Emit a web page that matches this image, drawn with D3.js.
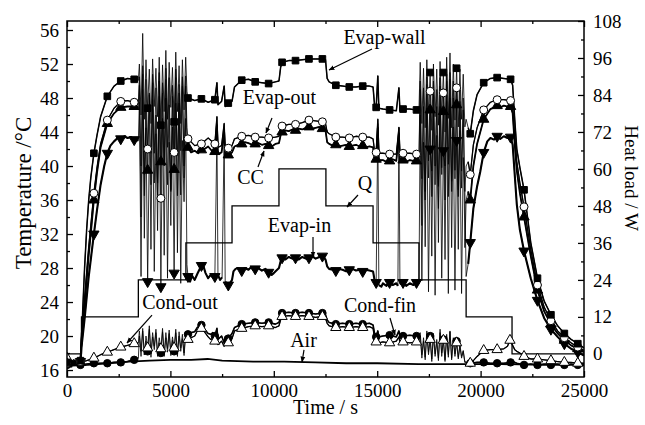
<!DOCTYPE html>
<html>
<head>
<meta charset="utf-8">
<script src="https://cdn.jsdelivr.net/npm/d3@7"></script>
<style>
  body { margin: 0; background: #fff; }
  text { font-family: "Liberation Serif", "Times New Roman", serif; fill: #000; }
</style>
</head>
<body>
<div id="chart"></div>
<script>
/* heat load steps (W), step-after */
const qTimes = [0, 700, 3450, 5750, 7980, 10250, 12520, 14800, 17020, 19300, 21520, 25000];
const qLoads = [0, 12, 24, 36, 48, 60, 48, 36, 24, 12, 0, 0];

/* time stamps of the two oscillating periods */
const oscTimesA = [3500,3580,3660,3740,3820,3900,3980,4060,4140,4220,4300,4380,4460,4540,4620,4700,4780,4860,4940,5020,5100,5180,5260,5340,5420,5500,5580,5660,5740,5800];
const oscTimesB = [17080,17160,17240,17320,17400,17480,17560,17640,17720,17800,17880,17960,18040,18120,18200,18280,18360,18440,18520,18600,18680,18760,18840,18920,19000,19080,19160,19240,19300];

/* Evap-wall */
const evapWall = [[0,16.9],[325,17.0],[650,17.1],[700,19.0],[760,23.0],[850,28.0],[950,32.5],[1050,36.0],[1150,38.6],[1300,41.5],[1450,43.6],[1625,45.8],[1950,48.2],[2275,49.4],[2600,50.0],[2925,50.3],[3250,50.2],[3450,50.1],
  [5850,48.0],[6175,47.7],[6500,47.9],[6825,47.5],[7150,47.8],[7250,49.8],[7300,47.2],[7475,47.6],[7600,49.4],[7650,47.0],[7800,47.4],[7980,47.6],
  [8100,49.3],[8450,50.1],[8775,50.2],[9100,49.9],[9425,49.8],[9750,49.7],[10075,49.9],[10250,50.0],
  [10330,51.6],[10400,52.2],[10725,52.4],[11050,52.4],[11375,52.5],[11700,52.6],[12025,52.6],[12350,52.6],[12500,52.5],
  [12580,50.3],[12675,49.9],[13000,49.5],[13325,49.4],[13650,49.3],[13975,49.3],[14300,49.4],[14625,49.4],[14800,49.3],
  [14870,47.2],[14950,46.9],[15030,50.6],[15080,46.8],[15275,46.7],[15600,46.6],[15925,46.5],[16050,49.2],[16100,46.5],[16250,46.7],[16575,46.7],[16900,46.6],[17020,46.7],
  [19400,44.5],[19500,43.8],[19650,46.5],[19830,48.4],[20150,49.8],[20475,50.3],[20800,50.4],[21125,50.3],[21450,50.2],[21550,49.5],
  [21650,45.5],[21750,42.0],[21900,39.8],[22100,37.2],[22425,31.0],[22750,26.8],[23075,24.1],[23400,22.5],[23725,21.2],[24050,20.3],[24375,19.6],[24700,19.1],[25000,18.6]];
const evapWallOscA = [52.0,46.0,55.6,45.5,52.5,46.8,51.4,45.0,52.6,47.0,51.5,45.8,52.8,44.8,51.9,46.4,53.6,45.5,52.2,46.9,51.6,45.2,53.4,46.4,51.8,45.0,52.5,46.6,52.8,48.8];
const evapWallOscB = [52.2,45.0,51.5,44.5,52.5,46.2,51.0,44.2,52.0,45.8,51.4,44.8,52.3,46.0,51.0,44.0,52.8,45.6,53.3,44.5,52.0,45.4,51.5,44.6,51.4,45.5,50.8,44.6,45.5];

/* Evap-out */
const evapOut = [[0,16.8],[325,16.9],[650,17.0],[700,20.3],[760,22.0],[850,24.5],[950,27.5],[1050,30.5],[1150,33.0],[1300,36.8],[1450,39.8],[1625,42.6],[1950,45.4],[2275,46.8],[2600,47.6],[2925,47.7],[3250,47.5],[3450,47.4],
  [5850,43.2],[6175,42.4],[6500,42.6],[6825,43.3],[7150,42.6],[7250,45.8],[7300,42.2],[7475,42.4],[7600,45.0],[7650,41.9],[7800,42.1],[7980,42.4],
  [8100,43.2],[8450,43.5],[8775,43.6],[9100,43.4],[9425,43.4],[9750,43.3],[10075,43.4],[10250,43.5],
  [10330,44.3],[10400,44.7],[10725,44.9],[11050,44.9],[11375,45.1],[11700,45.4],[12025,45.3],[12350,45.2],[12500,45.0],
  [12580,44.0],[12675,43.8],[13000,43.4],[13325,43.4],[13650,43.3],[13975,43.5],[14300,43.4],[14625,43.4],[14800,43.2],
  [14870,41.8],[14950,41.6],[15030,45.5],[15080,41.5],[15275,41.5],[15600,41.4],[15925,41.4],[16050,44.5],[16100,41.3],[16250,41.5],[16575,41.5],[16900,41.4],[17020,41.3],
  [19400,40.5],[19500,39.0],[19650,42.5],[19830,44.5],[20150,46.6],[20475,47.5],[20800,47.8],[21125,47.8],[21450,47.7],[21550,47.0],
  [21650,43.5],[21750,40.5],[21900,38.0],[22100,35.2],[22425,30.2],[22750,26.0],[23075,23.4],[23400,21.8],[23725,20.6],[24050,19.8],[24375,19.2],[24700,18.7],[25000,18.3]];
const evapOutOscA = [50.5,40.0,51.8,36.5,50.2,42.0,48.6,37.8,50.8,41.5,49.2,38.0,51.0,36.2,49.8,40.5,51.5,42.2,50.4,37.0,49.5,41.6,51.4,36.5,49.6,41.8,50.5,38.6,50.6,44.5];
const evapOutOscB = [50.0,38.5,49.2,36.0,50.5,40.6,48.8,36.4,50.0,40.0,49.0,37.6,50.4,39.8,48.6,36.0,50.8,40.2,51.0,37.0,50.0,39.5,49.2,37.2,49.0,39.4,48.0,37.0,40.0];

/* CC */
const ccTemp = [[0,16.7],[325,16.8],[650,16.9],[700,19.5],[760,21.0],[850,23.5],[950,26.5],[1050,29.5],[1150,32.0],[1300,36.0],[1450,39.2],[1625,42.2],[1950,45.0],[2275,46.2],[2600,46.9],[2925,47.0],[3250,47.0],[3450,46.9],
  [5850,42.2],[6000,41.6],[6175,41.8],[6350,41.5],[6500,41.9],[6650,42.0],[6825,42.3],[7000,41.8],[7150,41.7],[7250,44.8],[7300,41.4],[7475,41.6],[7600,44.0],[7650,41.2],[7800,41.3],[7980,41.6],
  [8100,42.3],[8275,42.5],[8450,42.6],[8600,42.8],[8775,42.7],[8950,42.5],[9100,42.6],[9250,42.7],[9425,42.5],[9600,42.6],[9750,42.4],[9900,42.3],[10075,42.6],[10250,42.7],
  [10330,43.6],[10400,44.0],[10550,44.2],[10725,44.1],[10900,44.3],[11050,44.2],[11200,44.4],[11375,44.3],[11550,44.5],[11700,44.6],[11850,44.4],[12025,44.5],[12200,44.6],[12350,44.4],[12500,44.2],
  [12580,42.8],[12675,42.6],[12850,42.4],[13000,42.5],[13150,42.3],[13325,42.4],[13500,42.5],[13650,42.3],[13800,42.4],[13975,42.5],[14150,42.3],[14300,42.4],[14450,42.2],[14625,42.3],[14800,42.2],
  [14870,40.9],[14950,40.8],[15030,44.5],[15080,40.7],[15275,40.7],[15450,40.5],[15600,40.6],[15750,40.8],[15925,40.6],[16050,43.8],[16100,40.5],[16250,40.7],[16400,40.5],[16575,40.7],[16750,40.6],[16900,40.6],[17020,40.5],
  [19400,37.0],[19500,36.0],[19650,40.0],[19830,42.6],[20150,45.5],[20475,46.7],[20650,46.9],[20800,47.1],[20950,46.9],[21125,47.1],[21300,47.0],[21450,47.0],[21550,46.2],
  [21650,42.5],[21750,39.5],[21900,36.8],[22100,34.0],[22425,29.4],[22750,25.4],[23075,22.9],[23400,21.4],[23725,20.3],[24050,19.5],[24375,18.9],[24700,18.5],[25000,18.1]];
const ccOscA = [49.5,34.0,50.8,31.5,47.0,39.5,48.4,30.2,49.8,38.0,46.0,32.4,50.0,40.5,48.6,29.5,50.2,37.8,47.2,33.0,48.2,39.6,50.4,29.8,47.4,36.6,49.4,40.0,49.4,43.0];
const ccOscB = [49.0,33.0,47.0,30.5,49.6,38.6,46.6,29.4,49.0,37.8,47.0,31.0,49.4,39.0,46.4,29.0,50.0,36.4,50.2,30.4,48.0,38.5,47.2,30.2,47.6,37.4,46.6,30.4,36.0];

/* Evap-in */
const evapIn = [[0,16.8],[325,16.7],[650,17.0],[700,18.7],[760,20.0],[850,22.0],[950,24.5],[1050,27.0],[1150,29.0],[1300,32.0],[1450,34.8],[1625,37.8],[1800,40.0],[1950,41.5],[2100,42.4],[2275,42.9],[2450,43.3],[2600,43.2],[2775,43.5],[2925,43.3],[3100,43.4],[3250,43.1],[3450,43.0],
  [5850,27.0],[5950,26.4],[6050,27.1],[6175,26.6],[6300,27.3],[6400,27.8],[6500,28.3],[6600,28.2],[6700,27.4],[6825,26.8],[6950,27.2],[7050,26.9],[7150,27.0],[7250,44.0],[7300,27.2],[7400,26.6],[7500,26.9],[7600,43.5],[7650,26.4],[7725,26.2],[7800,26.0],[7900,26.3],[7980,26.6],
  [8050,27.6],[8150,27.9],[8275,28.0],[8450,27.7],[8600,28.0],[8775,27.8],[8900,28.1],[9000,27.8],[9100,27.9],[9250,28.0],[9425,27.7],[9600,27.9],[9750,27.5],[9900,27.2],[10000,27.4],[10075,27.6],[10250,28.0],
  [10330,28.8],[10400,29.2],[10550,29.0],[10725,29.3],[10900,29.1],[11050,29.2],[11200,29.0],[11375,29.3],[11550,29.1],[11700,29.2],[11850,29.4],[12025,29.1],[12200,29.3],[12350,29.4],[12500,29.0],
  [12580,28.2],[12675,27.9],[12850,27.8],[13000,27.7],[13150,27.9],[13325,27.8],[13500,27.6],[13650,27.8],[13800,27.9],[13975,27.7],[14150,27.8],[14300,27.6],[14450,27.8],[14625,27.7],[14800,27.6],
  [14870,26.6],[14950,26.3],[15030,45.0],[15080,26.0],[15200,25.8],[15275,26.2],[15450,25.9],[15600,26.3],[15750,26.0],[15925,26.2],[16000,25.9],[16050,44.6],[16100,26.1],[16250,26.3],[16400,25.9],[16575,26.2],[16750,26.0],[16900,26.3],[17020,26.1],
  [19400,28.5],[19500,31.0],[19650,35.0],[19830,37.6],[19980,39.3],[20150,41.6],[20325,42.9],[20475,43.3],[20650,43.1],[20800,43.5],[20950,43.2],[21125,43.5],[21300,43.3],[21450,43.4],[21550,42.5],
  [21650,39.0],[21750,35.5],[21900,32.5],[22100,30.0],[22425,26.8],[22750,24.2],[23075,22.1],[23400,20.8],[23725,19.9],[24050,19.1],[24375,18.5],[24700,18.1],[25000,17.7]];
const evapInOscA = [47.5,27.0,49.0,39.0,44.5,26.4,42.2,41.5,47.8,27.6,43.8,36.5,48.2,25.8,45.6,40.0,48.0,26.8,42.8,37.2,44.6,27.4,47.4,41.2,48.6,26.2,43.0,35.8,45.6,28.4];
const evapInOscB = [46.0,26.5,42.8,37.0,46.8,25.2,42.0,39.4,46.2,24.8,43.6,35.0,47.0,26.8,41.8,40.0,47.6,25.0,48.0,38.2,44.6,25.4,43.0,36.4,44.2,25.0,41.0,37.0,27.0];

/* Cond-out */
const condOut = [[0,17.4],[160,16.8],[325,17.2],[500,16.9],[650,16.9],[950,17.1],[1300,17.4],[1625,17.8],[1950,18.1],[2275,18.4],[2600,18.7],[2925,18.9],[3250,19.1],[3450,19.2],
  [5850,19.6],[6000,19.8],[6175,20.0],[6300,20.6],[6500,20.9],[6650,20.5],[6825,19.9],[6950,19.6],[7050,19.7],[7150,19.4],[7250,20.4],[7300,19.0],[7475,19.4],[7600,18.8],[7650,19.5],[7800,19.2],[7980,19.7],
  [8100,20.6],[8450,20.9],[8775,21.1],[9100,21.2],[9425,21.1],[9750,21.2],[10075,21.0],[10250,21.2],
  [10330,21.9],[10400,22.3],[10725,22.4],[11050,22.3],[11375,22.4],[11700,22.3],[12025,22.2],[12350,22.3],[12500,22.1],
  [12580,21.5],[12675,21.2],[13000,21.0],[13325,21.1],[13650,21.0],[13975,21.1],[14300,21.0],[14625,21.1],[14800,20.9],
  [14870,19.8],[14950,19.3],[15030,19.9],[15080,19.2],[15275,19.3],[15600,19.2],[15925,19.4],[16050,19.9],[16100,19.2],[16250,19.3],[16575,19.2],[16900,19.3],[17020,19.3],
  [19400,16.7],[19500,16.8],[19650,17.1],[19830,17.6],[20150,18.3],[20475,18.4],[20800,18.4],[21125,18.5],[21300,18.8],[21420,19.5],[21550,18.9],
  [21650,18.4],[21750,18.2],[21900,18.0],[22100,17.6],[22425,17.3],[22750,17.3],[23075,17.2],[23400,17.1],[23725,17.0],[24050,16.9],[24375,16.9],[24700,16.8],[25000,16.8]];
const condOutOscA = [20.6,18.2,20.9,17.8,20.0,18.6,21.2,17.9,20.4,18.8,20.8,18.0,19.8,18.5,20.9,17.8,20.4,18.5,20.7,18.1,19.9,18.6,20.8,17.9,20.5,18.6,20.2,18.0,20.5,19.6];
const condOutOscB = [20.0,17.4,19.4,17.2,20.2,17.8,19.6,17.0,20.0,17.6,19.3,17.1,20.4,17.6,19.5,17.0,19.9,17.5,20.5,17.2,19.6,17.6,19.2,17.3,18.8,17.4,18.2,16.9,17.0];

/* Cond-fin */
const condFin = [[0,16.6],[325,16.7],[650,16.6],[950,16.7],[1300,16.8],[1625,16.8],[1950,16.8],[2275,16.9],[2600,16.9],[2925,17.0],[3250,17.2],[3450,17.4],
  [5850,20.2],[6000,20.4],[6175,20.5],[6300,21.0],[6500,21.3],[6650,20.8],[6825,20.3],[6950,20.2],[7050,20.4],[7150,20.0],[7250,20.9],[7300,19.6],[7475,20.0],[7600,19.2],[7650,19.9],[7800,19.7],[7980,20.3],
  [8100,21.0],[8450,21.4],[8775,21.5],[9100,21.6],[9425,21.5],[9750,21.6],[10075,21.4],[10250,21.6],
  [10330,22.3],[10400,22.7],[10725,22.8],[11050,22.7],[11375,22.8],[11700,22.7],[12025,22.6],[12350,22.7],[12500,22.5],
  [12580,21.9],[12675,21.6],[13000,21.4],[13325,21.5],[13650,21.4],[13975,21.5],[14300,21.4],[14625,21.5],[14800,21.3],
  [14870,20.3],[14950,19.9],[15030,20.6],[15080,19.9],[15275,20.0],[15600,20.1],[15925,19.9],[16050,20.6],[16100,19.9],[16250,20.0],[16575,20.1],[16900,20.0],[17020,20.0],
  [19400,16.8],[19500,16.8],[19830,16.9],[20150,16.9],[20475,16.8],[20800,16.8],[21125,16.8],[21450,16.9],[21550,17.0],
  [21750,16.8],[22100,16.6],[22425,16.7],[22750,16.6],[23075,16.7],[23400,16.6],[23725,16.7],[24050,16.6],[24375,16.7],[24700,16.6],[25000,16.6]];
const condFinOscA = [20.0,17.6,20.6,17.8,19.4,18.2,20.8,17.5,19.9,18.4,20.4,17.6,19.2,18.0,20.5,17.6,19.8,18.1,20.3,17.7,19.5,18.2,20.4,17.6,20.0,18.2,19.7,17.7,20.1,19.8];
const condFinOscB = [20.4,17.8,19.8,17.5,20.6,18.1,20.0,17.3,20.3,17.9,19.6,17.4,20.8,18.0,19.6,17.2,20.2,17.8,20.6,17.4,19.8,17.9,19.4,17.5,19.0,17.6,18.3,16.9,16.9];

/* Air */
const airTemp = [[0,16.5],[1000,16.6],[2000,16.8],[3000,17.0],[4000,17.1],[5000,17.2],[6000,17.2],[6800,17.3],[7500,17.1],[9000,17.0],[10500,17.0],[12000,16.9],[13500,16.8],[15000,16.8],[17000,16.7],[19000,16.7],[21000,16.7],[23000,16.6],[25000,16.6]];

/* tick values */
const tempTicks = [16, 20, 24, 28, 32, 36, 40, 44, 48, 52, 56];
const loadTicks = [0, 12, 24, 36, 48, 60, 72, 84, 96, 108];
const timeTicks = [0, 5000, 10000, 15000, 20000, 25000];

/* ---------- setup ---------- */
const W = 645, H = 425;
const plot = { left: 67, right: 584, top: 21, bottom: 377 };

const svg = d3.select("#chart").append("svg")
  .attr("width", W).attr("height", H);

const x = d3.scaleLinear().domain([0, 25000]).range([plot.left, plot.right]);
const yT = d3.scaleLinear().domain([15.18, 57.06]).range([plot.bottom, plot.top]);
const yQ = d3.scaleLinear().domain([-7.5, 108]).range([plot.bottom, plot.top]);

svg.append("clipPath").attr("id", "plotClip")
  .append("rect")
  .attr("x", plot.left).attr("y", plot.top)
  .attr("width", plot.right - plot.left).attr("height", plot.bottom - plot.top);

function withOsc(base, valsA, valsB) {
  const pts = base.slice();
  oscTimesA.forEach((t, i) => pts.push([t, valsA[i]]));
  oscTimesB.forEach((t, i) => pts.push([t, valsB[i]]));
  return pts.sort((a, b) => a[0] - b[0]);
}

/* break a base series into runs at the oscillation gaps and at spikes */
function runs(base) {
  const out = [[base[0]]];
  for (let i = 1; i < base.length; i++) {
    if (base[i][0] - base[i - 1][0] > 1000 || Math.abs(base[i][1] - base[i - 1][1]) > 8) out.push([]);
    out[out.length - 1].push(base[i]);
  }
  return out.filter(r => r.length > 1);
}

const series = [
  { name: "Cond-fin", base: condFin, data: withOsc(condFin, condFinOscA, condFinOscB), sym: d3.symbolCircle, size: 44, fill: "#000", w: 1.6 },
  { name: "Cond-out", base: condOut, data: withOsc(condOut, condOutOscA, condOutOscB), sym: d3.symbolTriangle, size: 46, fill: "#fff", w: 1.3 },
  { name: "Evap-in", base: evapIn, data: withOsc(evapIn, evapInOscA, evapInOscB), sym: d3.symbolTriangle, size: 46, fill: "#000", w: 2.1, rot: 180 },
  { name: "CC", base: ccTemp, data: withOsc(ccTemp, ccOscA, ccOscB), sym: d3.symbolTriangle, size: 46, fill: "#000", w: 1.8 },
  { name: "Evap-out", base: evapOut, data: withOsc(evapOut, evapOutOscA, evapOutOscB), sym: d3.symbolCircle, size: 50, fill: "#fff", w: 1.3 },
  { name: "Evap-wall", base: evapWall, data: withOsc(evapWall, evapWallOscA, evapWallOscB), sym: d3.symbolSquare, size: 44, fill: "#000", w: 1.5 }
];

const line = d3.line().x(d => x(d[0])).y(d => yT(d[1]));
const g = svg.append("g").attr("clip-path", "url(#plotClip)");

/* heat load */
const qData = qTimes.map((t, i) => [t, qLoads[i]]);
g.append("path")
  .attr("d", d3.line().curve(d3.curveStepAfter).x(d => x(d[0])).y(d => yQ(d[1]))(qData))
  .attr("fill", "none").attr("stroke", "#000").attr("stroke-width", 1.3);

/* air */
g.append("path").attr("d", line(airTemp))
  .attr("fill", "none").attr("stroke", "#000").attr("stroke-width", 1.8);

series.forEach(s => {
  // thin trace through everything (oscillations, spikes)
  g.append("path").attr("d", line(s.data))
    .attr("fill", "none").attr("stroke", "#000")
    .attr("stroke-width", 0.8).attr("stroke-linejoin", "round");
  // steady parts drawn heavier
  runs(s.base).forEach(r => {
    g.append("path").attr("d", line(r))
      .attr("fill", "none").attr("stroke", "#000")
      .attr("stroke-width", s.w).attr("stroke-linejoin", "round");
  });
});

/* markers: nearest data point to a regular time step */
const markTimes = d3.range(0, 25001, 650);
function markPoints(data) {
  const out = [];
  markTimes.forEach(mt => {
    let best = null;
    data.forEach(d => {
      if (Math.abs(d[0] - mt) <= 170 && (!best || Math.abs(d[0] - mt) < Math.abs(best[0] - mt))) best = d;
    });
    if (best && !out.includes(best)) out.push(best);
  });
  return out;
}

series.forEach(s => {
  g.append("g").selectAll("path")
    .data(markPoints(s.data))
    .enter().append("path")
    .attr("d", d3.symbol().type(s.sym).size(s.size))
    .attr("transform", d => `translate(${x(d[0])},${yT(d[1])})` + (s.rot ? ` rotate(${s.rot})` : ""))
    .attr("fill", s.fill).attr("stroke", "#000").attr("stroke-width", 1);
});

/* ---------- axes ---------- */
function styleAxis(sel, fontSize) {
  sel.select(".domain").remove();
  sel.selectAll("line").attr("stroke", "#000").attr("stroke-width", 1.3);
  sel.selectAll("text").attr("fill", "#000").style("font-size", fontSize + "px")
    .style("font-family", "'Liberation Serif', 'Times New Roman', serif");
}

const minorT = d3.range(16, 57, 2).filter(v => !tempTicks.includes(v));
const minorQ = d3.range(0, 109, 6).filter(v => !loadTicks.includes(v));
const minorX = [2500, 7500, 12500, 17500, 22500];

svg.append("g").attr("transform", `translate(${plot.left},0)`)
  .call(d3.axisLeft(yT).tickValues(tempTicks).tickSize(-6).tickPadding(8))
  .call(a => styleAxis(a, 19));
svg.append("g").attr("transform", `translate(${plot.left},0)`)
  .call(d3.axisLeft(yT).tickValues(minorT).tickSize(-3).tickFormat(""))
  .call(a => styleAxis(a, 19));

svg.append("g").attr("transform", `translate(${plot.right},0)`)
  .call(d3.axisRight(yQ).tickValues(loadTicks).tickSize(-6).tickPadding(9))
  .call(a => styleAxis(a, 19));
svg.append("g").attr("transform", `translate(${plot.right},0)`)
  .call(d3.axisRight(yQ).tickValues(minorQ).tickSize(-3).tickFormat(""))
  .call(a => styleAxis(a, 19));

svg.append("g").attr("transform", `translate(0,${plot.bottom})`)
  .call(d3.axisBottom(x).tickValues(timeTicks).tickSize(-6).tickPadding(7).tickFormat(d3.format("d")))
  .call(a => styleAxis(a, 19));
svg.append("g").attr("transform", `translate(0,${plot.bottom})`)
  .call(d3.axisBottom(x).tickValues(minorX).tickSize(-3).tickFormat(""))
  .call(a => styleAxis(a, 19));

svg.append("g").attr("transform", `translate(0,${plot.top})`)
  .call(d3.axisTop(x).tickValues(timeTicks).tickSize(-6).tickFormat(""))
  .call(a => styleAxis(a, 19));
svg.append("g").attr("transform", `translate(0,${plot.top})`)
  .call(d3.axisTop(x).tickValues(minorX).tickSize(-3).tickFormat(""))
  .call(a => styleAxis(a, 19));

/* frame */
svg.append("rect")
  .attr("x", plot.left).attr("y", plot.top)
  .attr("width", plot.right - plot.left).attr("height", plot.bottom - plot.top)
  .attr("fill", "none").attr("stroke", "#000").attr("stroke-width", 1.5);

/* axis titles */
svg.append("text")
  .attr("transform", `translate(31,${(plot.top + plot.bottom) / 2 - 6}) rotate(-90)`)
  .attr("text-anchor", "middle").attr("fill", "#000").style("font-size", "23px")
  .text("Temperature /\u00B0C");
svg.append("text")
  .attr("transform", `translate(625,${(plot.top + plot.bottom) / 2 - 21}) rotate(90)`)
  .attr("text-anchor", "middle").attr("fill", "#000").style("font-size", "19px")
  .text("Heat load / W");
svg.append("text")
  .attr("x", (plot.left + plot.right) / 2).attr("y", 414)
  .attr("text-anchor", "middle").attr("fill", "#000").style("font-size", "20px")
  .text("Time / s");

/* ---------- annotations (data coordinates) ---------- */
svg.append("defs").append("marker")
  .attr("id", "arrow").attr("viewBox", "0 0 10 10")
  .attr("refX", 9).attr("refY", 5)
  .attr("markerWidth", 5).attr("markerHeight", 5)
  .attr("orient", "auto")
  .append("path").attr("d", "M0,1 L10,5 L0,9 Z").attr("fill", "#000");

const notes = [
  { text: "Evap-wall", tx: 15353, ty: 54.3, a: [14749, 53.77, 12669, 51.3] },
  { text: "Evap-out", tx: 10276, ty: 47.3, a: [9913, 45.65, 9623, 43.88] },
  { text: "CC", tx: 8873, ty: 37.88, a: [9236, 39.88, 9526, 41.77] },
  { text: "Q", tx: 14410, ty: 37.18, a: [14072, 36.59, 13540, 35.18] },
  { text: "Evap-in", tx: 11243, ty: 32.24, a: [11896, 31.65, 11896, 29.3] },
  { text: "Cond-out", tx: 5464, ty: 23.18, a: [4110, 22.47, 2901, 19.18] },
  { text: "Cond-fin", tx: 15135, ty: 22.83, a: [15619, 22.12, 15861, 20.12] },
  { text: "Air", tx: 11436, ty: 18.71, a: [11460, 18.36, 11364, 16.94] }
];

notes.forEach(n => {
  svg.append("text")
    .attr("x", x(n.tx)).attr("y", yT(n.ty))
    .attr("text-anchor", "middle").attr("fill", "#000").style("font-size", "20px")
    .text(n.text);
  svg.append("line")
    .attr("x1", x(n.a[0])).attr("y1", yT(n.a[1]))
    .attr("x2", x(n.a[2])).attr("y2", yT(n.a[3]))
    .attr("stroke", "#000").attr("stroke-width", 1.2)
    .attr("marker-end", "url(#arrow)");
});
</script>
</body>
</html>
